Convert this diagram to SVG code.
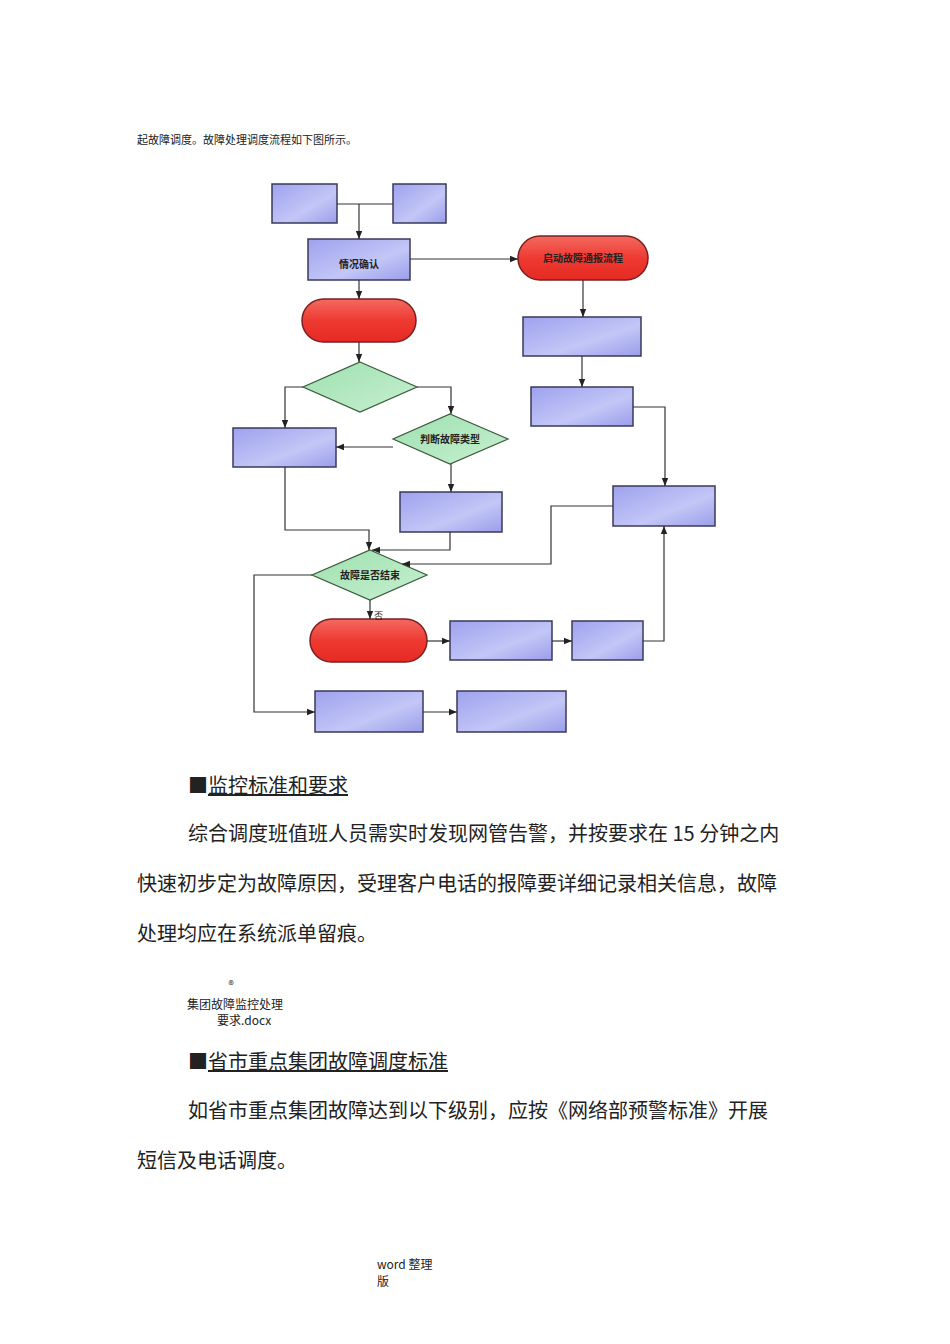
<svg xmlns="http://www.w3.org/2000/svg" width="950" height="1344" viewBox="0 0 950 1344">
<defs>
<linearGradient id="gb" x1="0" y1="0" x2="1" y2="1"><stop offset="0" stop-color="#9ea2ee"/><stop offset="0.6" stop-color="#c3c6f6"/><stop offset="1" stop-color="#9a9eea"/></linearGradient>
<linearGradient id="gr" x1="0" y1="0" x2="0" y2="1"><stop offset="0" stop-color="#f36a60"/><stop offset="0.5" stop-color="#ee3a32"/><stop offset="1" stop-color="#e52a22"/></linearGradient>
<linearGradient id="gg" x1="0" y1="0" x2="1" y2="1"><stop offset="0" stop-color="#9fe0b0"/><stop offset="1" stop-color="#c6f0d0"/></linearGradient>
<marker id="ar" viewBox="0 0 10 10" refX="10" refY="5" markerWidth="7" markerHeight="7" orient="auto"><path d="M0,1 L10,5 L0,9 z" fill="#222"/></marker>
</defs>
<style>
.b{fill:url(#gb);stroke:#3a3a5a;stroke-width:1.5}
.r{fill:url(#gr);stroke:#7a2020;stroke-width:1.5}
.d{fill:url(#gg);stroke:#3a5a3a;stroke-width:1.2}
.c{fill:none;stroke:#333;stroke-width:1.2}
.ca{fill:none;stroke:#333;stroke-width:1.2;marker-end:url(#ar)}
.t{font-family:"Noto Sans CJK SC","Liberation Sans",sans-serif;fill:#222}
.s{font-size:10px;text-anchor:middle;font-weight:bold}
.p{font-size:20px}
</style>
<rect width="950" height="1344" fill="#fff"/>
<text class="t" x="137" y="144" font-size="11">起故障调度。故障处理调度流程如下图所示。</text>

<g id="nA"><rect class="b" x="272" y="184" width="65" height="39"/></g>
<g id="nB"><rect class="b" x="393" y="184" width="53" height="39"/></g>
<g id="nC"><rect class="b" x="308" y="239" width="102" height="41"/><text class="t s" x="359" y="268">情况确认</text></g>
<g id="nP1"><rect class="r" x="302" y="299" width="114" height="43" rx="21.5"/></g>
<g id="nP2"><rect class="r" x="518" y="236" width="130" height="44" rx="22"/><text class="t s" x="583" y="262" font-size="11">启动故障通报流程</text></g>
<g id="nR1"><rect class="b" x="523" y="317" width="118" height="39"/></g>
<g id="nR2"><rect class="b" x="531" y="387" width="102" height="39"/></g>
<g id="nD1"><polygon class="d" points="360,362 417,387 360,412 303,387"/></g>
<g id="nL"><rect class="b" x="233" y="428" width="103" height="39"/></g>
<g id="nD2"><polygon class="d" points="450,414 508,439 450,464 393,439"/><text class="t s" x="450" y="443">判断故障类型</text></g>
<g id="nM"><rect class="b" x="400" y="492" width="102" height="40"/></g>
<g id="nR3"><rect class="b" x="613" y="486" width="102" height="40"/></g>
<g id="nD3"><polygon class="d" points="370,550 427,575 370,600 312,575"/><text class="t s" x="370" y="579">故障是否结束</text></g>
<g id="nP3"><rect class="r" x="310" y="619" width="117" height="43" rx="21.5"/></g>
<g id="nN"><rect class="b" x="450" y="621" width="102" height="39"/></g>
<g id="nO"><rect class="b" x="572" y="621" width="71" height="39"/></g>
<g id="nPP"><rect class="b" x="315" y="691" width="108" height="41"/></g>
<g id="nQ"><rect class="b" x="457" y="691" width="109" height="41"/></g>

<g id="connectors">
<path class="c" d="M337,204 H393"/>
<path class="ca" d="M359,204 V239"/>
<path class="ca" d="M410,259 H518"/>
<path class="ca" d="M359,280 V299"/>
<path class="ca" d="M359,342 V362"/>
<path class="ca" d="M303,387 H285 V428"/>
<path class="ca" d="M417,387 H451 V414"/>
<path class="ca" d="M393,447 H336"/>
<path class="ca" d="M451,464 V492"/>
<path class="ca" d="M285,467 V530 H369 V550"/>
<path class="ca" d="M450,532 V550 H372"/>
<path class="ca" d="M613,506 H551 V564 H402"/>
<path class="ca" d="M583,280 V317"/>
<path class="ca" d="M582,356 V387"/>
<path class="ca" d="M633,407 H665 V486"/>
<path class="ca" d="M370,600 V619"/>
<text class="t" x="374" y="619" font-size="9">否</text>
<path class="ca" d="M427,641 H450"/>
<path class="ca" d="M552,641 H572"/>
<path class="ca" d="M643,641 H664 V526"/>
<path class="ca" d="M312,575 H254 V712 H315"/>
<path class="ca" d="M423,712 H457"/>
</g>

<text class="t p" x="188" y="793"><tspan>■</tspan><tspan text-decoration="underline">监控标准和要求</tspan></text>
<text class="t p" x="188" y="841">综合调度班值班人员需实时发现网管告警，并按要求在 15 分钟之内</text>
<text class="t p" x="137" y="891">快速初步定为故障原因，受理客户电话的报障要详细记录相关信息，故障</text>
<text class="t p" x="137" y="941">处理均应在系统派单留痕。</text>
<text class="t" x="231" y="989" font-size="11" fill="#6a7ab0" text-anchor="middle">®</text>
<text class="t" x="187" y="1009" font-size="12">集团故障监控处理</text>
<text class="t" x="217" y="1025" font-size="12">要求.docx</text>
<text class="t p" x="188" y="1069"><tspan>■</tspan><tspan text-decoration="underline">省市重点集团故障调度标准</tspan></text>
<text class="t p" x="188" y="1118">如省市重点集团故障达到以下级别，应按《网络部预警标准》开展</text>
<text class="t p" x="137" y="1168">短信及电话调度。</text>
<text class="t" x="377" y="1269" font-size="12">word 整理</text>
<text class="t" x="377" y="1286" font-size="12">版</text>
</svg>
